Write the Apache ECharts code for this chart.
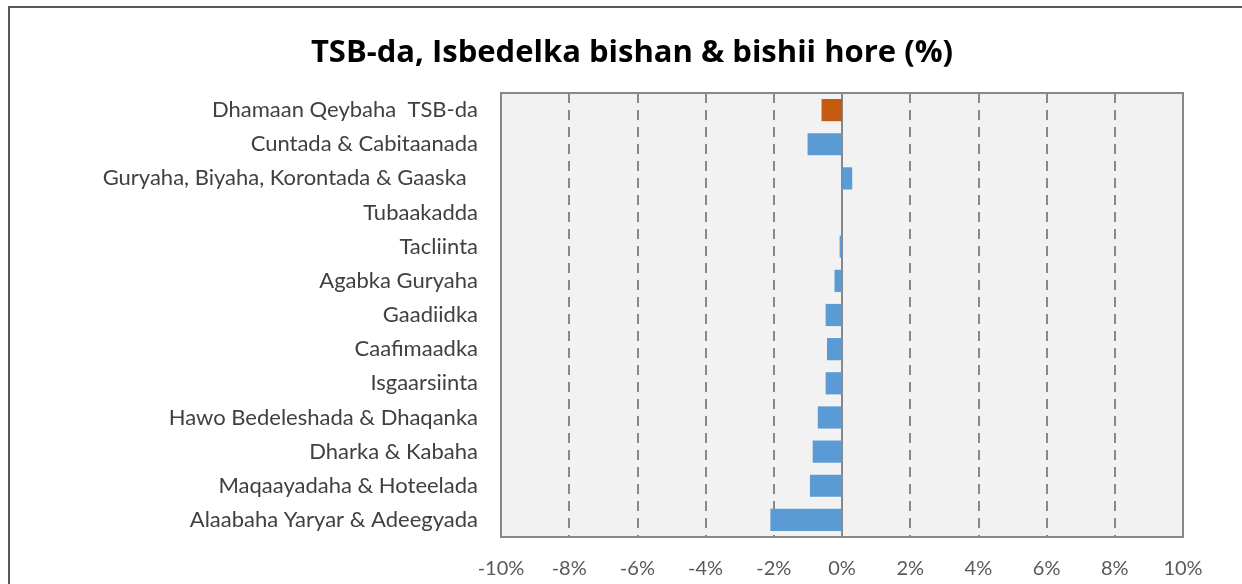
<!DOCTYPE html>
<html>
<head>
<meta charset="utf-8">
<script src="https://cdn.jsdelivr.net/npm/echarts@6/dist/echarts.min.js"></script>
<style>
html,body{margin:0;padding:0;background:#fff;}
#chart{width:1242px;height:584px;}
</style>
</head>
<body>
<div id="chart"></div>
<script>
const titleText = 'TSB-da, Isbedelka bishan & bishii hore (%)';
const categories = [
  'Dhamaan Qeybaha  TSB-da',
  'Cuntada & Cabitaanada',
  'Guryaha, Biyaha, Korontada & Gaaska  ',
  'Tubaakadda',
  'Tacliinta',
  'Agabka Guryaha',
  'Gaadiidka',
  'Caafimaadka',
  'Isgaarsiinta',
  'Hawo Bedeleshada & Dhaqanka',
  'Dharka & Kabaha',
  'Maqaayadaha & Hoteelada',
  'Alaabaha Yaryar & Adeegyada'
];
const values = [-0.60, -1.01, 0.30, 0.0, -0.07, -0.22, -0.48, -0.44, -0.48, -0.71, -0.86, -0.94, -2.10];
const highlightIndex = 0;
const xMin = -10, xMax = 10, xStep = 2;

const chart = echarts.init(document.getElementById('chart'));
chart.setOption({
  animation: false,
  backgroundColor: '#ffffff',
  title: {
    text: titleText,
    left: 627,
    textAlign: 'center',
    top: 33,
    textStyle: {fontFamily: 'Open Sans', fontWeight: 'bold', fontSize: 31, color: '#000000'}
  },
  graphic: [{
    type: 'rect',
    shape: {x: 9, y: 7, width: 1300, height: 700},
    style: {fill: 'none', stroke: '#595959', lineWidth: 2},
    silent: true
  }],
  grid: {
    left: 501, right: 59, top: 93, bottom: 47,
    show: true, backgroundColor: '#f2f2f2', borderColor: '#888888', borderWidth: 2
  },
  xAxis: {
    type: 'value', min: xMin, max: xMax, interval: xStep,
    axisLine: {show: false},
    axisTick: {show: false},
    axisLabel: {
      formatter: v => v + '%', fontFamily: 'Lato', fontSize: 20, color: '#595959', margin: 22
    },
    splitLine: {show: true, lineStyle: {type: [10, 7], color: '#888888', width: 2}}
  },
  yAxis: {
    type: 'category', data: categories, inverse: true,
    axisLine: {show: true, onZero: true, lineStyle: {color: '#888888', width: 2}},
    axisTick: {show: false},
    axisLabel: {fontFamily: 'Lato', fontSize: 22, color: '#404040', margin: 23}
  },
  series: [{
    type: 'bar',
    barWidth: '65%',
    data: values.map((v, i) => ({
      value: v,
      itemStyle: {color: i === highlightIndex ? '#c55a11' : '#5b9bd5'}
    }))
  }]
});
</script>
</body>
</html>
